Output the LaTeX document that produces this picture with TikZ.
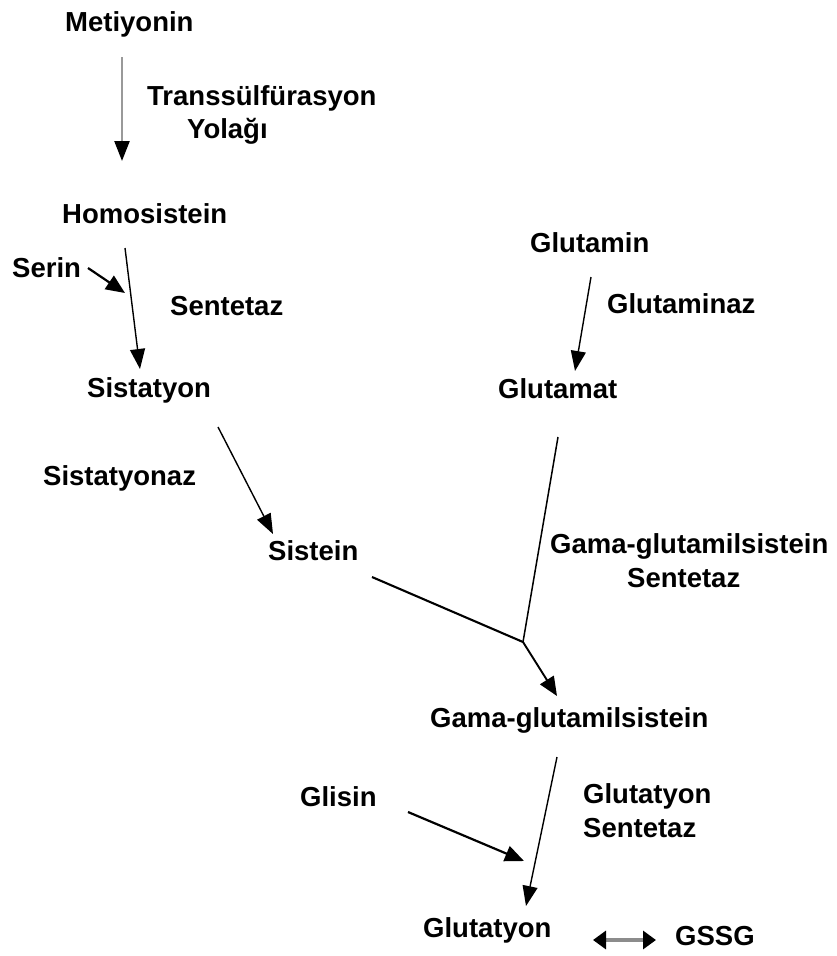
\documentclass[tikz,border=0pt]{standalone}
\usepackage{fontspec}
\setmainfont{Liberation Sans}
\usepackage{tikz}
\usetikzlibrary{positioning}
\usetikzlibrary{arrows.meta}

\tikzset{
    compound/.style={anchor=base west, inner sep=0pt, font=\fontsize{27.5}{33}\selectfont\bfseries},
    reaction/.style={line width=1.4pt, -{Triangle[length=20pt, width=15pt, color=black]}},
    feed/.style={line width=2.2pt, -{Triangle[length=19pt, width=16pt]}},
    branch/.style={line width=2.1pt}
}

\begin{document}
\begin{tikzpicture}[x=1pt, y=-1pt]
    \useasboundingbox (0,0) rectangle (837,956);

    \node [compound] (met) at (65,31) {Metiyonin};
    \node [compound] (trans1) at (147,105) {Transsülfürasyon};
    \node [compound] (trans2) at (187,138) {Yolağı};
    \node [compound] (homo) at (62,223) {Homosistein};
    \node [compound] (serin) at (12,277) {Serin};
    \node [compound] (sent1) at (170,315) {Sentetaz};
    \node [compound] (sistatyon) at (87,397) {Sistatyon};
    \node [compound] (sistatyonaz) at (43,485) {Sistatyonaz};
    \node [compound] (sistein) at (268,560) {Sistein};
    \node [compound] (glutamin) at (530,252) {Glutamin};
    \node [compound] (glutaminaz) at (607,313) {Glutaminaz};
    \node [compound] (glutamat) at (498,398) {Glutamat};
    \node [compound] (ggsent1) at (550,553) {Gama-glutamilsistein};
    \node [compound] (ggsent2) at (627,587) {Sentetaz};
    \node [compound] (gg) at (430,727) {Gama-glutamilsistein};
    \node [compound] (glisin) at (300,806) {Glisin};
    \node [compound] (gsent1) at (583,803) {Glutatyon};
    \node [compound] (gsent2) at (583,837) {Sentetaz};
    \node [compound] (gsh) at (423,937) {Glutatyon};
    \node [compound] (gssg) at (675,945) {GSSG};

    \coordinate (met-out) at (122,57);
    \coordinate (homo-in) at (122,161);
    \coordinate (homo-out) at (125,248);
    \coordinate (sistatyon-in) at (140,369);
    \coordinate (serin-out) at (88,268);
    \coordinate (serin-in) at (125,293);
    \coordinate (sistatyon-out) at (218,427);
    \coordinate (sistein-in) at (273,534);
    \coordinate (glutamin-out) at (591,277);
    \coordinate (glutamat-in) at (575,371);
    \coordinate (sistein-out) at (372,577);
    \coordinate (glutamat-out) at (558,437);
    \coordinate (junction) at (523,642);
    \coordinate (gg-in) at (557,696);
    \coordinate (gg-out) at (557,757);
    \coordinate (gsh-in) at (526,906);
    \coordinate (glisin-out) at (408,812);
    \coordinate (glisin-in) at (524,861);
    \coordinate (gsh-out) at (593,940);
    \coordinate (gssg-in) at (656,940);

    \draw [reaction, draw=black!40, line width=2.4pt] (met-out) -- (homo-in);
    \draw [reaction] (homo-out) -- (sistatyon-in);
    \draw [feed] (serin-out) -- (serin-in);
    \draw [reaction] (sistatyon-out) -- (sistein-in);
    \draw [reaction] (glutamin-out) -- (glutamat-in);
    \draw [branch] (sistein-out) -- (junction);
    \draw [line width=1.5pt] (glutamat-out) -- (junction);
    \draw [feed, line width=1.9pt] (junction) -- (gg-in);
    \draw [reaction] (gg-out) -- (gsh-in);
    \draw [feed] (glisin-out) -- (glisin-in);
    \draw [line width=3.5pt, draw=black!45, {Triangle[length=13pt, width=18pt, color=black]}-{Triangle[length=13pt, width=18pt, color=black]}] (gsh-out) -- (gssg-in);
\end{tikzpicture}
\end{document}
